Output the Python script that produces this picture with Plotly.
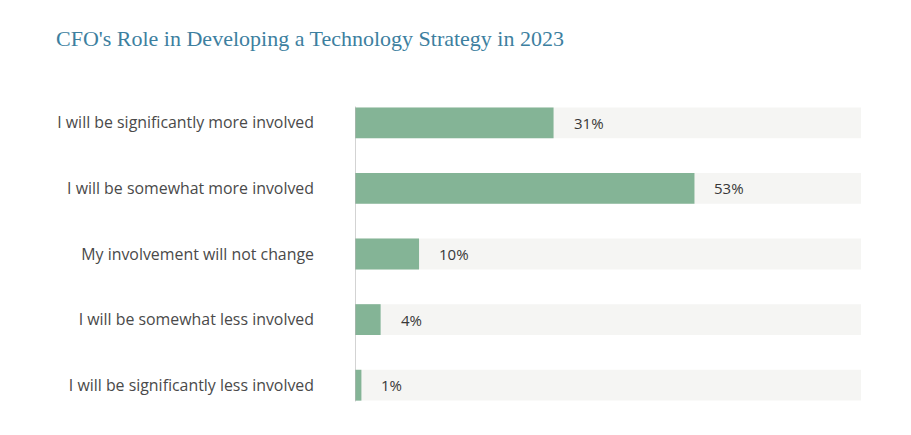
import plotly.graph_objects as go

# survey answers, top to bottom
answers = [
    'I will be significantly more involved',
    'I will be somewhat more involved',
    'My involvement will not change',
    'I will be somewhat less involved',
    'I will be significantly less involved',
]
shares = [31, 53, 10, 4, 1]
share_labels = ['31%', '53%', '10%', '4%', '1%']

X_MAX = 79  # end of the grey track
BAR_COLOR = '#84b496'
TRACK_COLOR = '#f5f5f3'

track = go.Bar(
    y=answers,
    x=[X_MAX] * len(answers),
    orientation='h',
    marker=dict(color=TRACK_COLOR, line=dict(width=0)),
    width=0.47,
    hoverinfo='skip',
    showlegend=False)

bars = go.Bar(
    y=answers,
    x=shares,
    orientation='h',
    marker=dict(color=BAR_COLOR, line=dict(width=0)),
    width=0.47,
    hovertemplate='%{y}: %{x}%<extra></extra>',
    showlegend=False)

fig = go.Figure([track, bars])

for a, v, t in zip(answers, shares, share_labels):
    fig.add_annotation(x=v, y=a, text=t, showarrow=False,
                       xanchor='left', xshift=18,
                       font=dict(family='Open Sans', size=15, color='#383838'))

# left axis line only spans the bars
fig.add_shape(type='line', xref='x', yref='y',
              x0=0, x1=0, y0=-0.25, y1=len(answers) - 1 + 0.25,
              line=dict(color='#b5b5b5', width=1.2))

# page adds an 8px body margin, so the figure is 8px smaller than the window
fig.update_layout(
    width=903, height=427,
    barmode='overlay',
    plot_bgcolor='white', paper_bgcolor='white',
    margin=dict(l=347, r=50, t=82, b=17),
    title=dict(text="CFO's Role in Developing a Technology Strategy in 2023",
               xref='container', x=48 / 903, xanchor='left',
               yref='container', y=1 - 30 / 427, yanchor='middle',
               font=dict(family='Liberation Serif', size=22, color='#3d7f9f')),
    xaxis=dict(range=[0, X_MAX], visible=False, fixedrange=True),
    yaxis=dict(autorange='reversed', categoryorder='array', categoryarray=answers,
               showgrid=False, zeroline=False, showline=False, ticks='',
               ticklabelstandoff=40,
               tickfont=dict(family='Open Sans', size=15.9, color='#4a4a4a')),
)

fig.write_html('out.html')
